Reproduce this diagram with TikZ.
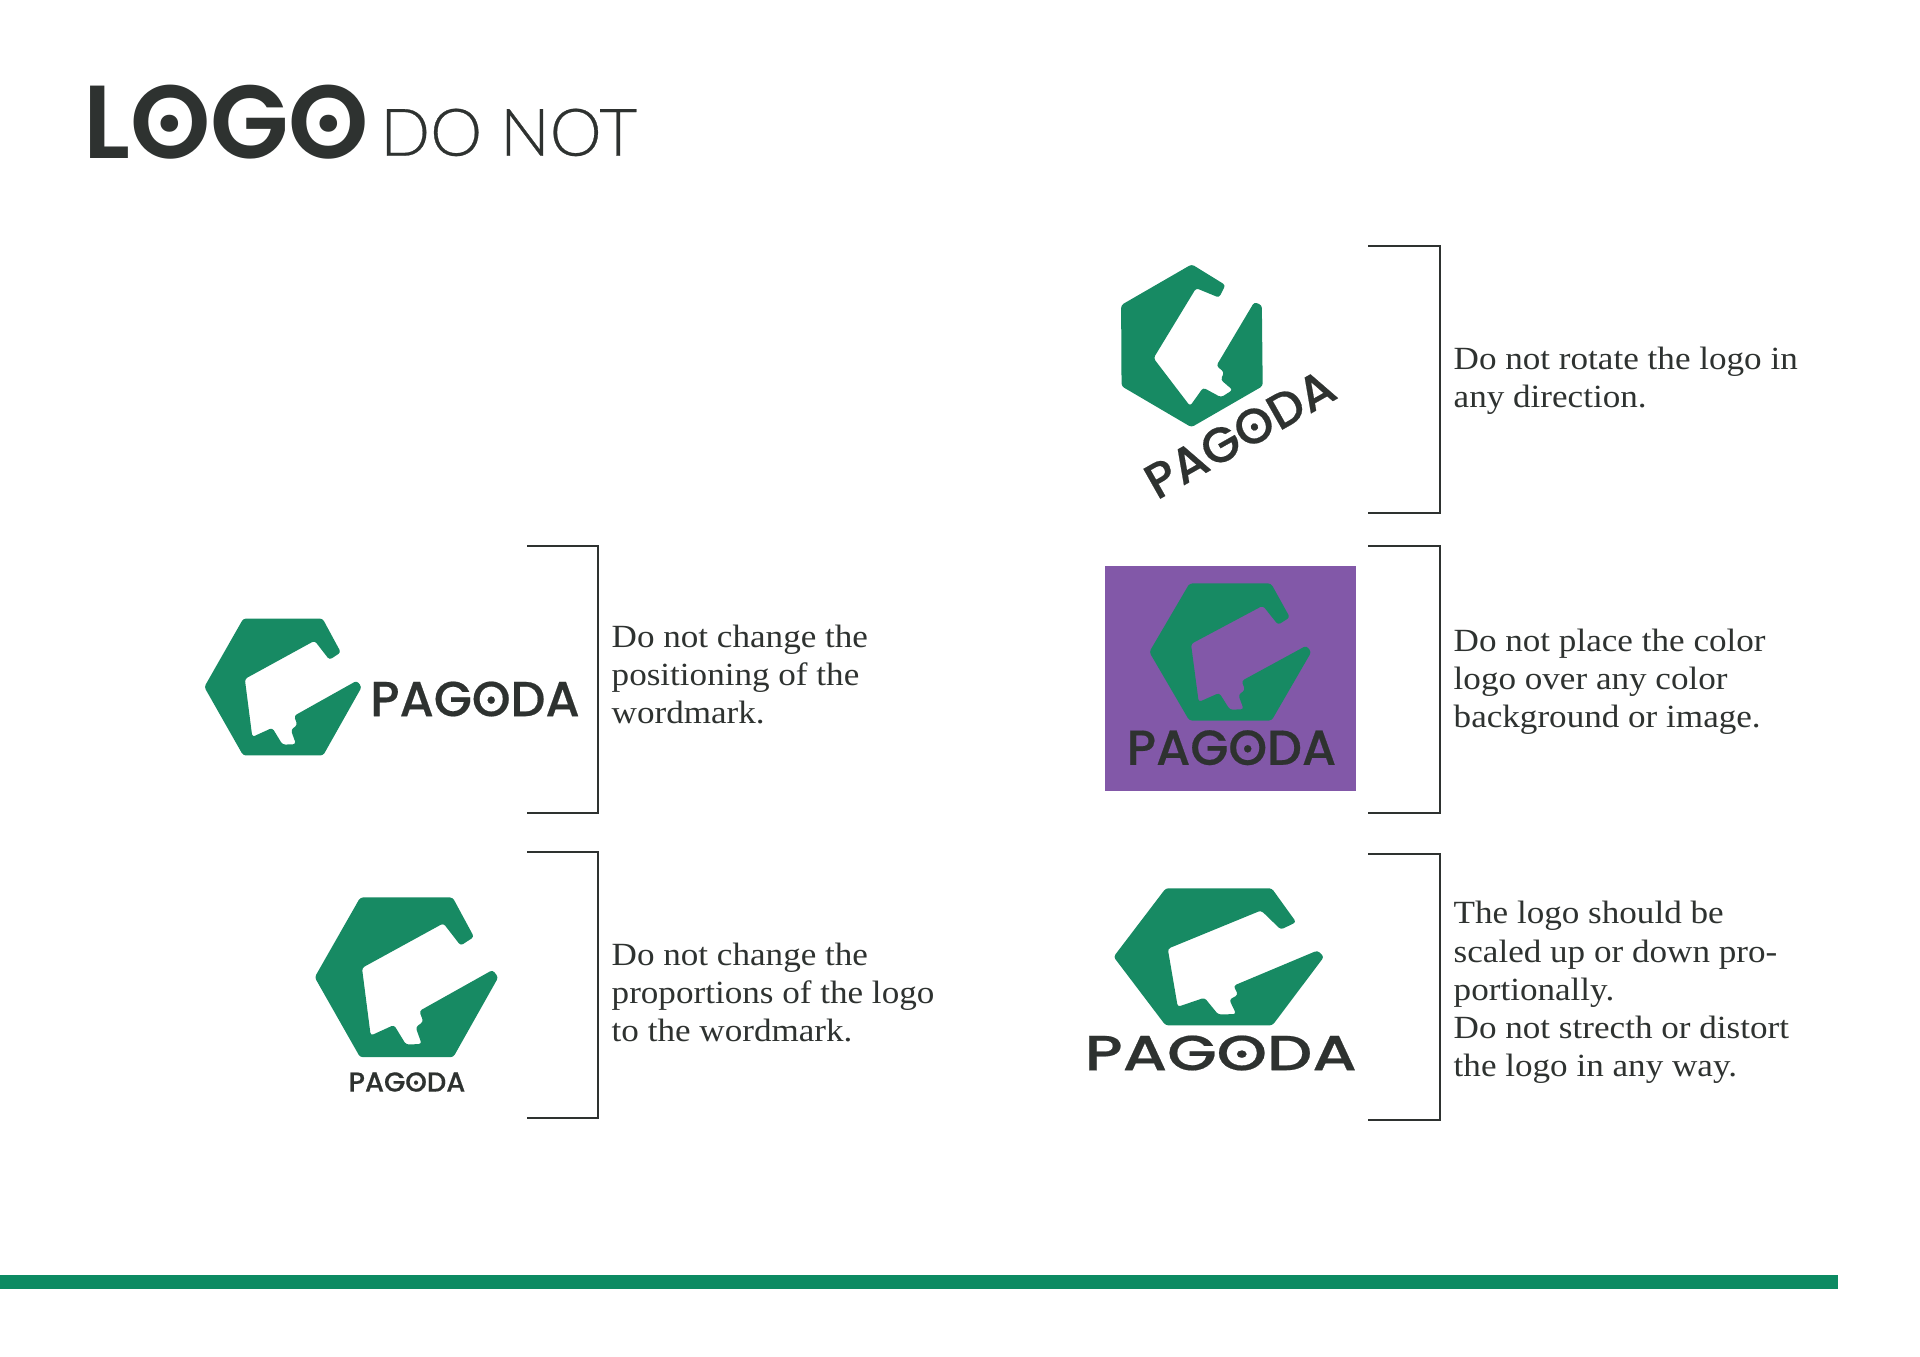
\documentclass[tikz,border=0pt]{standalone}
\usepackage{fontspec}
\setmainfont{Liberation Serif}[FakeStretch=1.085]
\newfontfamily\wordfont{Poppins Medium}[FakeBold=0.4]
\newfontfamily\headfont{Poppins SemiBold}
\newfontfamily\lightfont{Lato Light}[FakeBold=0.4]
\definecolor{pagodagreen}{HTML}{178A63}
\definecolor{bargreen}{HTML}{0C8A62}
\definecolor{pagodapurple}{HTML}{8258A8}
\definecolor{inkdark}{HTML}{2E3230}
\newcommand{\dotO}{\ooalign{\hidewidth\raisebox{.26em}{.}\hidewidth\cr O\cr}}
\tikzset{
  pagodamark/.pic={
    \fill[pagodagreen, rounded corners=0.8pt] (-100,0) -- (-50.4,-87) -- (50.3,-87) -- (73.5,-44) -- (59,-34.5)
      -- (40.2,-58.8) -- (-48.5,-10.2) -- (-39,63.5) -- (-13.6,51.9) -- (-0.5,73.3) -- (16.5,72.6)
      -- (10,54.4) -- (18.3,48.3) -- (14,36.7) -- (93.8,-8) -- (100,0) -- (51,87) -- (-50.6,87) -- cycle;
  },
  wordmark/.style={inkdark, inner sep=0, font=\wordfont\fontsize{#1}{#1}\selectfont},
  wordmark/.default=14,
  bodytext/.style={inkdark, inner sep=0, anchor=west, align=left, font=\fontsize{9.2}{10.86}\selectfont},
  bracket/.style={draw=inkdark, line width=0.02cm},
}
\begin{document}
\begin{tikzpicture}[x=0.01cm, y=-0.01cm]
  \useasboundingbox (0,0) rectangle (1920,1357);
  % heading
  \node[inkdark, inner sep=0, anchor=base west, xscale=0.985, transform shape, font=\headfont\fontsize{29.5}{30}\selectfont] (logohead) at (82.5,158.3) {L\dotO G\dotO};
  \node[inkdark, inner sep=0, anchor=base west, font=\lightfont\fontsize{18.7}{19}\selectfont] (donothead) at (379.5,155.7) {DO NOT};
  % wrong positioning
  \pic (markA) at (283,687) [scale=0.787] {pagodamark};
  \node[wordmark] (wordA) at (475,699) {PAG\dotO DA};
  \draw[bracket] (527,546) -- (598,546) -- (598,813) -- (527,813);
  \node[bodytext] (textA) at (611,674.5) {Do not change the\\positioning of the\\wordmark.};
  % wrong proportions
  \pic (markB) at (406.5,977.3) [scale=0.918] {pagodamark};
  \node[wordmark=7.8] (wordB) at (407,1082) {PAG\dotO DA};
  \draw[bracket] (527,851.5) -- (598,851.5) -- (598,1118) -- (527,1118);
  \node[bodytext] (textB) at (611,992.5) {Do not change the\\proportions of the logo\\to the wordmark.};
  % rotated
  \pic (markC) at (1191.7,345.7) [rotate=30, scale=0.81] {pagodamark};
  \node[wordmark, rotate=29.5] (wordC) at (1239.8,434) {PAG\dotO DA};
  \draw[bracket] (1368,246) -- (1440,246) -- (1440,513) -- (1368,513);
  \node[bodytext] (textC) at (1453,380.5) {Do not rotate the logo in\\any direction.};
  % on colour
  \fill[pagodapurple] (1105,565.5) rectangle (1355.5,791);
  \pic (markD) at (1230.3,652) [xscale=0.81, yscale=0.788] {pagodamark};
  \node[wordmark] (wordD) at (1231.5,747.7) {PAG\dotO DA};
  \draw[bracket] (1368,546) -- (1440,546) -- (1440,813) -- (1368,813);
  \node[bodytext] (textD) at (1453,682) {Do not place the color\\logo over any color\\background or image.};
  % stretched
  \pic (markE) at (1218.8,956.8) [xscale=1.052, yscale=0.788] {pagodamark};
  \node[wordmark, xscale=1.3, transform shape] (wordE) at (1220.7,1053) {PAG\dotO DA};
  \draw[bracket] (1368,853.5) -- (1440,853.5) -- (1440,1120) -- (1368,1120);
  \node[bodytext] (textE) at (1453,992.5) {The logo should be\\scaled up or down pro-\\portionally.\\Do not strecth or distort\\the logo in any way.};
  % footer bar
  \fill[bargreen] (0,1275) rectangle (1838,1289);
\end{tikzpicture}
\end{document}
